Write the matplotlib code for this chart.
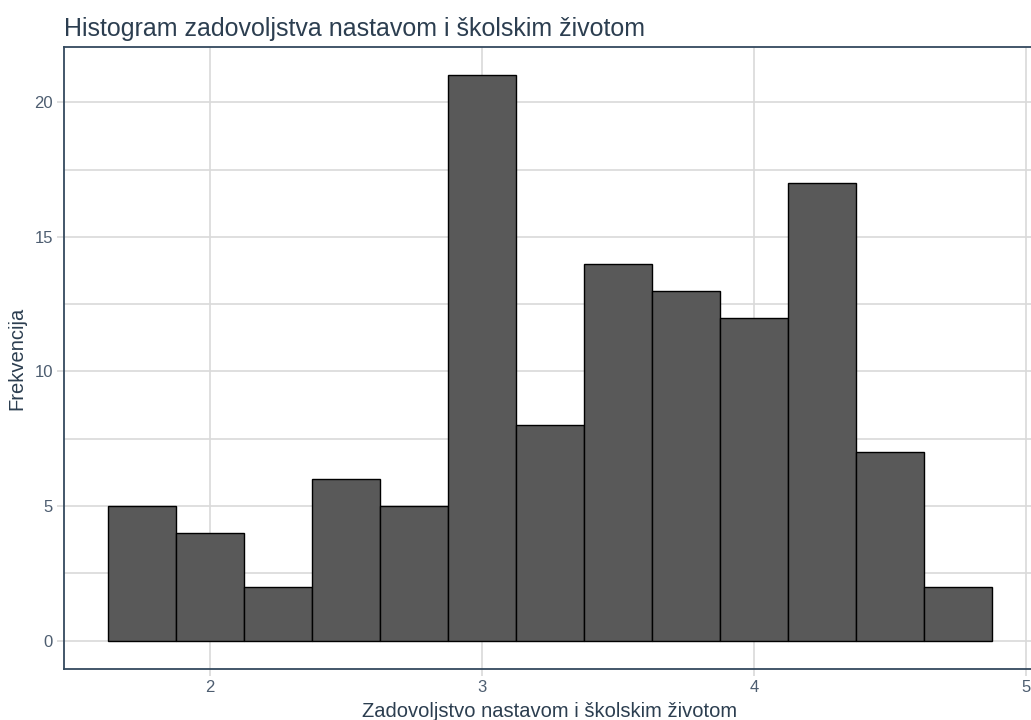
import matplotlib
matplotlib.use("Agg")
import matplotlib.pyplot as plt
from matplotlib.ticker import MultipleLocator

# Data
bin_centers = [1.75, 2.00, 2.25, 2.50, 2.75, 3.00, 3.25, 3.50, 3.75, 4.00, 4.25, 4.50, 4.75]
counts = [5, 4, 2, 6, 5, 21, 8, 14, 13, 12, 17, 7, 2]
bin_width = 0.25
x_ticks = [2, 3, 4, 5]
y_ticks = [0, 5, 10, 15, 20]
title = "Histogram zadovoljstva nastavom i školskim životom"
x_label = "Zadovoljstvo nastavom i školskim životom"
y_label = "Frekvencija"

plt.rcParams['font.family'] = ['Liberation Sans', 'DejaVu Sans']

W, H = 1031, 720
fig = plt.figure(figsize=(W / 100, H / 100), dpi=100)
left_px, right_px, top_px, bot_px = 64, 1036, 47, 669
ax = fig.add_axes([left_px / W, 1 - bot_px / H, (right_px - left_px) / W, (bot_px - top_px) / H])

ax.bar(bin_centers, counts, width=bin_width, color="#595959", edgecolor="#000000",
       linewidth=1.0, zorder=3)

lo = min(bin_centers) - bin_width / 2
hi = max(bin_centers) + bin_width / 2
pad = (hi - lo) * 0.05
ax.set_xlim(lo - pad, hi + pad)
ymax = max(counts)
ax.set_ylim(-ymax * 0.05, ymax * 1.05)

ax.set_xticks(x_ticks)
ax.set_yticks(y_ticks)
ax.yaxis.set_minor_locator(MultipleLocator(2.5))

grid_col = "#d9d9d9"
ax.grid(True, which="major", axis="both", color=grid_col, linewidth=1.2, zorder=0)
ax.grid(True, which="minor", axis="y", color=grid_col, linewidth=1.2, zorder=0)
ax.set_axisbelow(True)

spine_col = "#34495e"
for s in ax.spines.values():
    s.set_color(spine_col)
    s.set_linewidth(1.3)

tick_col = "#4d5d70"
ax.tick_params(axis="both", which="major", colors=grid_col, length=5, width=1.2,
               labelsize=12, labelcolor=tick_col, pad=3)
ax.tick_params(axis="y", which="minor", length=0)

ax.set_title(title, loc="left", fontsize=18, color="#2c3e50", pad=8, x=0.0)
ax.set_xlabel(x_label, fontsize=14.5, color="#2c3e50", labelpad=5)
ax.set_ylabel(y_label, fontsize=14.5, color="#2c3e50", labelpad=6)

fig.savefig("out.png", dpi=100)
